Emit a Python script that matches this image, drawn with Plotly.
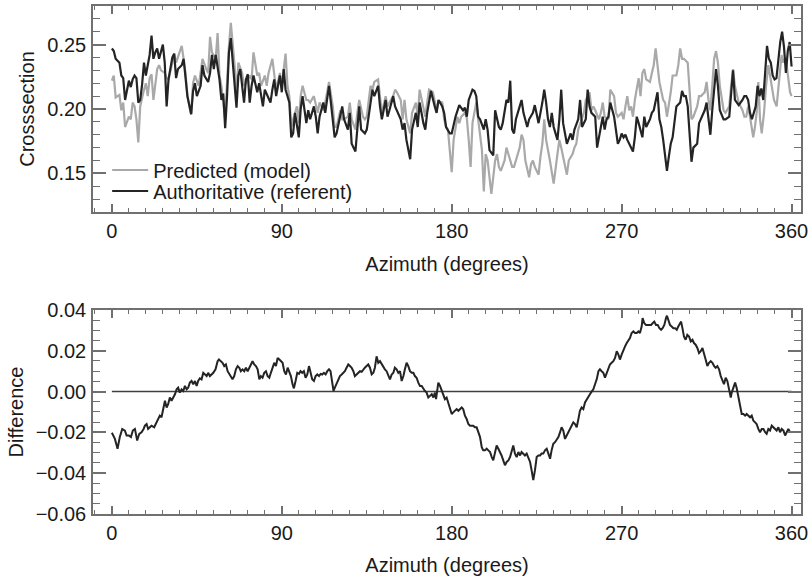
import plotly.graph_objects as go

# ---------------- data ----------------
auth_az = [0,1,2,4,5,6,7,8,9,10,11,12,13,14,15,16,17,18,20,21,22,23,24,25,26,27,28,29,30,32,33,34,35,37,38,39,40,42,43,44,45,47,48,49,51,52,53,54,55,57,58,59,60,61,62,63,65,66,67,68,70,71,72,73,74,75,77,78,79,80,81,83,84,85,86,87,89,90,91,92,94,95,96,97,99,100,101,103,104,105,107,108,109,110,112,113,115,116,117,118,119,121,122,123,125,126,127,129,130,131,132,134,135,137,138,139,141,142,143,145,146,147,149,150,151,153,154,155,156,158,159,161,162,163,165,166,167,168,169,171,172,173,175,176,177,179,180,182,183,184,186,187,188,189,191,192,193,194,195,197,198,199,200,202,203,204,205,206,207,209,210,211,212,213,214,216,217,218,219,220,221,223,224,225,226,228,229,230,231,232,233,234,236,237,238,239,240,241,243,244,245,247,248,249,251,252,253,254,256,257,259,260,261,262,263,264,266,267,268,269,270,271,272,273,274,276,277,278,279,281,282,283,285,286,287,289,290,291,292,293,294,295,296,297,298,299,301,302,303,304,305,306,307,308,310,311,312,314,315,316,317,318,319,320,321,322,324,325,327,328,329,330,331,332,334,335,336,337,338,339,341,342,343,344,345,347,348,349,350,351,352,353,354,355,356,357,358,359,360]
auth_val = [.247,.245,.239,.236,.226,.224,.207,.214,.222,.217,.223,.226,.224,.205,.207,.219,.236,.226,.242,.257,.239,.244,.247,.239,.244,.250,.236,.202,.223,.240,.243,.224,.231,.234,.239,.225,.210,.196,.214,.220,.210,.218,.234,.226,.221,.228,.242,.231,.242,.223,.207,.212,.185,.210,.244,.255,.218,.201,.226,.231,.205,.223,.227,.205,.218,.226,.213,.220,.211,.202,.215,.209,.205,.215,.223,.210,.226,.213,.231,.215,.205,.178,.181,.197,.178,.200,.210,.189,.199,.192,.202,.194,.181,.194,.205,.197,.218,.205,.189,.178,.181,.194,.202,.192,.184,.197,.173,.167,.184,.202,.184,.181,.184,.207,.215,.210,.218,.202,.192,.207,.194,.199,.210,.202,.199,.192,.184,.189,.176,.161,.184,.197,.186,.205,.189,.184,.197,.207,.214,.202,.197,.207,.202,.197,.186,.181,.181,.194,.199,.203,.199,.201,.194,.207,.215,.214,.210,.194,.192,.184,.192,.184,.168,.164,.199,.192,.186,.184,.189,.207,.205,.222,.184,.181,.192,.202,.207,.197,.192,.186,.192,.197,.203,.197,.189,.205,.215,.205,.192,.186,.197,.186,.176,.192,.215,.189,.181,.173,.181,.176,.184,.192,.207,.186,.192,.215,.202,.197,.194,.170,.186,.194,.184,.192,.194,.205,.194,.184,.173,.176,.181,.178,.180,.176,.173,.167,.178,.194,.189,.178,.194,.186,.192,.197,.199,.213,.192,.186,.176,.165,.152,.163,.173,.178,.192,.202,.205,.214,.210,.210,.202,.184,.159,.170,.173,.189,.192,.199,.205,.194,.180,.199,.218,.231,.218,.199,.192,.192,.194,.213,.230,.207,.205,.203,.207,.210,.210,.207,.197,.192,.202,.218,.210,.216,.207,.249,.239,.236,.226,.223,.224,.240,.252,.260,.248,.228,.245,.252,.233]

pred_az = [0,1,2,4,5,6,7,9,10,11,12,13,14,15,17,18,19,20,21,22,24,25,26,28,29,30,32,33,34,36,37,38,39,40,42,43,44,46,47,48,50,51,52,53,55,56,57,58,60,61,62,63,65,66,67,69,70,71,73,74,75,77,78,79,81,82,83,85,86,87,89,90,92,93,94,95,96,98,99,100,101,103,104,105,107,108,109,110,112,113,115,117,118,119,121,122,123,125,126,127,129,130,131,133,134,135,137,138,139,141,142,143,145,146,147,149,150,151,153,154,155,156,158,159,161,162,163,165,166,167,168,170,171,172,173,175,176,177,178,179,180,181,183,184,185,187,188,189,190,191,193,194,195,196,197,198,199,200,201,203,204,205,206,208,209,210,212,213,214,216,217,218,219,221,222,223,224,226,227,228,229,230,232,233,234,236,237,238,240,241,242,244,245,246,247,249,250,251,253,254,255,256,258,259,260,261,263,264,266,267,268,270,271,272,273,274,275,276,277,279,280,281,282,283,285,286,287,288,289,290,292,293,294,295,296,297,299,300,301,302,303,305,306,307,308,310,311,312,314,315,316,317,318,319,320,321,322,324,325,327,328,329,330,331,332,334,335,336,337,338,339.7,340.6,341.5,342.4,343.3,344.2,345.4,346.5,347.7,348.6,349.5,350.7,352.1,353.0,353.9,354.7,355.6,356.5,357.4,358.3,359.2,360]
pred_val = [.222,.226,.209,.211,.199,.205,.186,.194,.192,.205,.202,.192,.174,.202,.215,.220,.210,.224,.227,.207,.231,.234,.230,.228,.224,.223,.236,.243,.236,.244,.249,.239,.228,.210,.196,.220,.226,.218,.231,.239,.231,.228,.256,.244,.239,.259,.226,.218,.192,.226,.249,.267,.234,.210,.236,.228,.218,.220,.226,.223,.244,.226,.228,.218,.226,.218,.228,.239,.226,.215,.228,.218,.243,.218,.210,.186,.192,.202,.189,.210,.218,.207,.207,.205,.210,.202,.197,.205,.199,.205,.221,.202,.186,.186,.199,.192,.192,.194,.205,.192,.184,.197,.207,.194,.192,.194,.218,.215,.221,.223,.210,.197,.210,.202,.205,.210,.215,.213,.207,.192,.207,.192,.181,.197,.205,.194,.215,.202,.194,.205,.215,.213,.205,.199,.206,.205,.192,.186,.184,.165,.151,.176,.194,.189,.194,.197,.193,.176,.155,.189,.205,.192,.178,.168,.136,.165,.160,.147,.134,.160,.165,.155,.152,.160,.170,.165,.155,.155,.160,.170,.180,.176,.160,.147,.157,.160,.155,.149,.163,.173,.192,.176,.160,.149,.142,.165,.176,.170,.157,.149,.160,.165,.170,.173,.184,.192,.197,.207,.213,.199,.202,.199,.192,.197,.205,.194,.192,.215,.210,.197,.194,.197,.192,.202,.210,.199,.202,.194,.207,.224,.210,.228,.231,.223,.221,.228,.234,.247,.231,.221,.207,.205,.194,.202,.213,.226,.226,.234,.247,.239,.239,.236,.213,.192,.194,.202,.210,.210,.213,.221,.207,.199,.218,.239,.245,.236,.218,.199,.197,.202,.218,.231,.218,.210,.205,.199,.194,.194,.202,.194,.178,.186,.197,.221,.192,.181,.197,.218,.234,.226,.218,.207,.202,.218,.234,.242,.236,.239,.234,.223,.213,.210]

diff_az = [0.0,1.6,3.0,4.2,5.5,6.9,7.8,9.0,10.1,11.1,12.2,13.4,14.5,15.7,16.8,17.5,18.4,19.2,20.1,21.0,22.4,23.7,24.5,25.4,26.3,27.2,28.1,29.0,29.8,30.7,31.6,32.5,33.4,34.3,35.1,36.0,36.9,37.8,38.7,39.6,40.4,41.3,42.2,43.1,44.0,44.9,45.7,46.6,47.5,48.4,49.3,50.2,51.0,51.9,52.8,53.7,54.9,56.0,56.7,57.7,58.6,59.5,60.4,61.3,62.2,63.0,63.9,64.8,65.7,66.6,67.5,68.3,69.2,70.1,71.0,71.9,72.8,73.6,74.5,75.4,76.3,77.2,78.1,78.9,79.8,80.7,81.6,82.5,83.4,84.2,85.1,86.0,86.9,87.8,88.7,89.5,90.4,91.3,92.2,93.1,94.0,94.8,95.7,96.4,97.3,98.2,99.1,99.9,100.8,101.7,102.6,103.5,104.4,105.3,106.1,107.0,107.9,108.8,109.7,110.6,111.4,112.3,113.2,114.1,115.0,115.8,116.7,117.4,118.1,119.0,119.9,120.8,121.7,122.6,123.4,124.3,125.2,126.1,127.0,127.9,128.7,129.6,130.5,131.4,132.3,133.2,134.0,134.9,135.8,136.7,137.6,138.5,139.3,140.2,141.1,142.0,142.9,143.8,144.6,145.5,146.4,147.3,148.2,149.1,149.9,150.8,151.7,152.6,153.5,154.4,155.2,156.1,157.0,157.9,158.8,159.7,160.5,161.4,162.3,163.2,164.1,165.0,165.8,166.7,167.6,168.5,169.4,170.3,171.1,171.7,172.4,172.9,173.8,174.7,175.5,176.4,177.3,178.2,179.1,180.0,180.8,181.7,182.6,183.5,184.4,185.3,186.1,187.0,187.9,188.8,189.7,190.6,191.4,192.3,193.2,194.1,195.0,195.9,196.7,197.6,198.5,199.4,200.3,201.2,202.0,203.0,203.8,204.7,205.6,206.4,207.3,208.2,209.1,210.0,210.9,211.7,212.6,213.5,214.4,215.3,216.2,217.0,217.9,218.8,219.7,220.6,221.5,222.3,223.2,224.1,225.0,225.9,226.8,227.6,228.5,229.4,230.3,231.2,232.1,232.9,233.8,234.7,235.6,236.5,237.4,238.2,239.1,240.0,240.9,241.8,242.6,243.5,244.4,245.3,246.2,247.1,247.9,248.8,249.7,250.6,251.5,252.4,253.2,254.1,255.0,255.9,256.8,257.7,258.5,259.4,260.3,261.2,262.1,263.0,263.8,264.7,265.6,266.5,267.4,268.3,269.1,270.0,270.9,271.8,272.7,273.6,274.4,275.3,276.2,277.1,278.0,278.9,279.7,280.6,281.1,282.0,282.9,283.8,284.7,285.6,286.4,287.3,288.2,289.1,290.0,290.9,291.7,292.6,293.5,294.0,294.7,295.6,296.5,297.4,298.3,299.2,300.0,300.9,301.5,302.2,303.0,303.9,304.8,305.7,306.6,307.5,308.3,309.2,310.1,311.0,311.9,312.8,313.6,314.5,315.4,316.3,317.2,318.1,319.0,319.8,320.7,321.6,322.5,323.4,324.2,325.1,326.0,326.9,327.8,328.3,329.2,330.1,330.9,331.8,332.7,333.6,334.5,335.4,336.2,337.1,338.0,338.9,339.8,340.7,341.5,342.4,343.3,344.2,345.1,346.0,346.8,347.7,348.6,349.5,350.4,351.3,352.1,353.0,353.9,354.8,355.7,356.6,357.4,358.3,359.2]
diff_val = [-.0202,-.0232,-.0280,-.0223,-.0183,-.0191,-.0215,-.0215,-.0223,-.0191,-.0183,-.0240,-.0207,-.0199,-.0183,-.0167,-.0159,-.0183,-.0175,-.0167,-.0175,-.0151,-.0134,-.0118,-.0126,-.0078,-.0045,-.0078,-.0062,-.0029,-.0045,-.0029,-.0013,.0011,.0019,-.0005,.0011,.0003,.0028,.0011,.0019,.0044,.0052,.0036,.0052,.0028,.0052,.0065,.0060,.0092,.0084,.0076,.0092,.0076,.0084,.0092,.0109,.0149,.0157,.0149,.0141,.0125,.0133,.0100,.0084,.0076,.0060,.0076,.0109,.0125,.0117,.0100,.0109,.0100,.0117,.0100,.0117,.0133,.0149,.0133,.0125,.0109,.0060,.0076,.0068,.0092,.0100,.0076,.0068,.0092,.0117,.0141,.0125,.0165,.0157,.0149,.0141,.0100,.0084,.0117,.0092,.0076,.0036,.0016,.0052,.0092,.0087,.0100,.0092,.0100,.0068,.0084,.0125,.0092,.0060,.0052,.0076,.0084,.0076,.0087,.0084,.0092,.0084,.0100,.0109,.0100,.0052,.0003,.0019,.0036,.0052,.0076,.0084,.0092,.0100,.0117,.0133,.0125,.0117,.0100,.0076,.0084,.0092,.0100,.0097,.0109,.0117,.0125,.0133,.0117,.0084,.0092,.0117,.0173,.0141,.0149,.0133,.0125,.0109,.0100,.0084,.0060,.0084,.0092,.0117,.0109,.0092,.0100,.0052,.0076,.0109,.0141,.0125,.0100,.0092,.0092,.0076,.0068,.0044,.0028,.0028,.0011,.0003,-.0005,-.0029,-.0021,-.0013,-.0029,-.0005,-.0037,.0019,.0044,.0028,.0003,-.0013,-.0037,-.0029,-.0053,-.0078,-.0110,-.0102,-.0094,-.0086,-.0094,-.0086,-.0078,-.0086,-.0118,-.0134,-.0159,-.0167,-.0167,-.0167,-.0175,-.0175,-.0199,-.0223,-.0272,-.0288,-.0288,-.0280,-.0288,-.0296,-.0321,-.0337,-.0296,-.0264,-.0280,-.0296,-.0313,-.0337,-.0361,-.0345,-.0337,-.0321,-.0296,-.0264,-.0304,-.0321,-.0296,-.0313,-.0296,-.0304,-.0313,-.0304,-.0321,-.0345,-.0385,-.0434,-.0385,-.0321,-.0313,-.0313,-.0304,-.0304,-.0288,-.0280,-.0304,-.0329,-.0288,-.0256,-.0248,-.0232,-.0223,-.0199,-.0175,-.0191,-.0232,-.0215,-.0199,-.0183,-.0167,-.0151,-.0159,-.0175,-.0134,-.0094,-.0078,-.0086,-.0053,-.0037,-.0021,-.0013,.0000,.0011,.0036,.0060,.0100,.0109,.0100,.0092,.0068,.0092,.0109,.0133,.0141,.0149,.0165,.0198,.0181,.0157,.0181,.0206,.0222,.0238,.0254,.0262,.0287,.0295,.0287,.0287,.0295,.0287,.0319,.0360,.0335,.0327,.0327,.0327,.0327,.0335,.0343,.0327,.0327,.0311,.0303,.0311,.0327,.0360,.0372,.0352,.0327,.0319,.0311,.0311,.0303,.0319,.0335,.0343,.0311,.0270,.0254,.0278,.0270,.0246,.0254,.0238,.0230,.0214,.0189,.0198,.0214,.0181,.0157,.0125,.0141,.0149,.0141,.0125,.0117,.0125,.0109,.0076,.0052,.0036,.0068,.0052,.0011,-.0029,-.0005,.0019,.0044,.0019,-.0029,-.0062,-.0110,-.0110,-.0118,-.0110,-.0118,-.0126,-.0118,-.0143,-.0151,-.0159,-.0183,-.0199,-.0183,-.0183,-.0199,-.0207,-.0183,-.0191,-.0167,-.0175,-.0183,-.0191,-.0175,-.0199,-.0183,-.0191,-.0215,-.0199,-.0183,-.0199]

zero_val = [0.0, 0.0]
zero_az = [0, 360]

x_ticks = [0, 90, 180, 270, 360]

# ---------------- figure ----------------
FONT = "Liberation Sans, Arial, Helvetica, sans-serif"
TXT = "#1a1a1a"
FRAME = "#707070"
LIGHT = "#a9a9a9"
DARK = "#242424"

fig = go.Figure()
fig.add_trace(go.Scatter(x=pred_az, y=pred_val, mode="lines", name="Predicted (model)",
                         line=dict(color=LIGHT, width=2.2), xaxis="x", yaxis="y", legend="legend"))
fig.add_trace(go.Scatter(x=auth_az, y=auth_val, mode="lines", name="Authoritative (referent)",
                         line=dict(color=DARK, width=2.2), xaxis="x", yaxis="y", legend="legend2"))
fig.add_trace(go.Scatter(x=zero_az, y=zero_val, mode="lines", showlegend=False,
                         line=dict(color="#404040", width=1.5), xaxis="x2", yaxis="y2"))
fig.add_trace(go.Scatter(x=diff_az, y=diff_val, mode="lines", showlegend=False,
                         line=dict(color=DARK, width=2), xaxis="x2", yaxis="y2"))

xcommon = dict(range=[-10, 365], tickvals=x_ticks, ticks="inside", ticklen=8, tickwidth=1.5,
               tickcolor=FRAME, showline=True, linecolor=FRAME, linewidth=1.5, mirror="allticks",
               showgrid=False, zeroline=False, ticklabelstandoff=0, automargin=False,
               minor=dict(dtick=9, tick0=0, ticks="inside", ticklen=4, tickwidth=1, tickcolor=FRAME, showgrid=False),
               title=dict(text="Azimuth (degrees)", standoff=16, font=dict(size=20, color=TXT)),
               tickfont=dict(size=20, color=TXT))
ycommon = dict(ticks="inside", ticklen=13, tickwidth=1.5, tickcolor=FRAME, showline=True,
               linecolor=FRAME, linewidth=1.5, mirror="allticks", showgrid=False, zeroline=False,
               automargin=False, tickformat=".2f", tickfont=dict(size=20, color=TXT), ticklabelstandoff=1)

leg_common = dict(xanchor="left", yanchor="middle", bgcolor="rgba(0,0,0,0)",
                  font=dict(size=20, color=TXT), itemwidth=36, borderwidth=0)

fig.update_layout(
    width=809, height=576,
    margin=dict(l=93, r=8, t=6, b=62, autoexpand=False),
    paper_bgcolor="white", plot_bgcolor="white",
    font=dict(family=FONT, size=20, color=TXT),
    showlegend=True,
    legend=dict(x=0.020, y=(514 - 170) / 508, **leg_common),
    legend2=dict(x=0.020, y=(514 - 191) / 508, **leg_common),
    xaxis=dict(domain=[0, 1], anchor="y", **xcommon),
    xaxis2=dict(domain=[0, 1], anchor="y2", **xcommon),
    yaxis=dict(domain=[0.5945, 1.0], anchor="x", range=[0.12, 0.28], dtick=0.05, tick0=0,
               minor=dict(dtick=0.01, tick0=0, ticks="inside", ticklen=7, tickwidth=1, tickcolor=FRAME, showgrid=False),
               title=dict(text="Crosssection", standoff=7, font=dict(size=20, color=TXT)), **ycommon),
    yaxis2=dict(domain=[0.0, 0.4016], anchor="x2", range=[-0.06, 0.04], dtick=0.02, tick0=0,
                minor=dict(dtick=0.005, tick0=0, ticks="inside", ticklen=7, tickwidth=1, tickcolor=FRAME, showgrid=False),
                title=dict(text="Difference", standoff=7, font=dict(size=20, color=TXT)), **ycommon),
)

fig.write_html("out.html", config={"displayModeBar": False},
               post_script="document.body.style.margin='0';document.body.style.overflow='hidden';")
